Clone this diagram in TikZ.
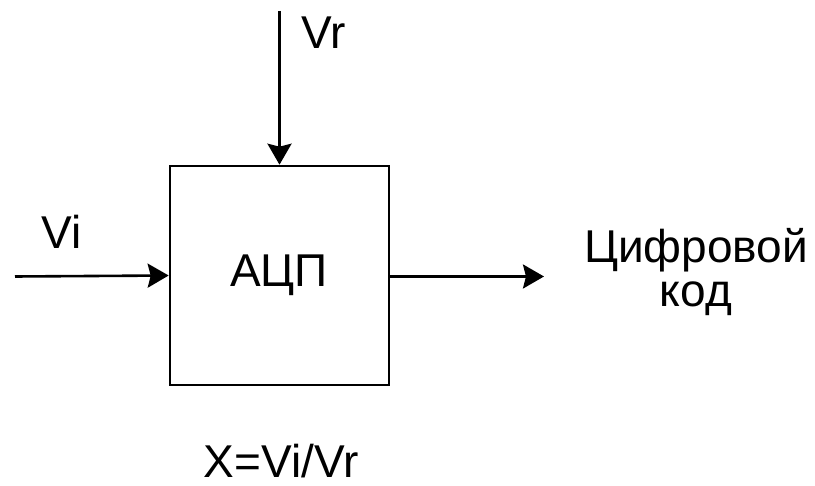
\documentclass[tikz,border=0pt]{standalone}
\usepackage{fontspec}
\setmainfont{Liberation Sans}
\usetikzlibrary{arrows.meta}
\begin{document}
\begin{tikzpicture}[x=1pt,y=-1pt,
  line width=2.6pt,
  arr/.style={-{Stealth[length=21pt,width=24pt,inset=3pt]}},
  lbl/.style={inner sep=0pt,font=\fontsize{46}{54}\selectfont}]
\useasboundingbox (0,0) rectangle (815,486);
\node[draw,line width=2.6pt,minimum width=219pt,minimum height=219pt,inner sep=0pt] (adc) at (279.5,275.5) {};
\node[lbl] (adctext) at (279,275) {АЦП};
\coordinate (top) at (279.5,11);
\coordinate (left) at (15,276.5);
\coordinate (right) at (544,276.5);
\draw[arr] (top) -- (adc.north);
\draw[arr] (left) -- (adc.west);
\draw[arr] (adc.east |- right) -- (right);
\node[lbl,anchor=base west] (vr) at (300,49) {Vr};
\node[lbl,anchor=base west] (vi) at (40,249) {Vi};
\node[lbl,anchor=base] (code1) at (696,263) {Цифровой};
\node[lbl,anchor=base] (code2) at (696,307) {код};
\node[lbl,anchor=base] (formula) at (281,478) {X=Vi/Vr};
\end{tikzpicture}
\end{document}
